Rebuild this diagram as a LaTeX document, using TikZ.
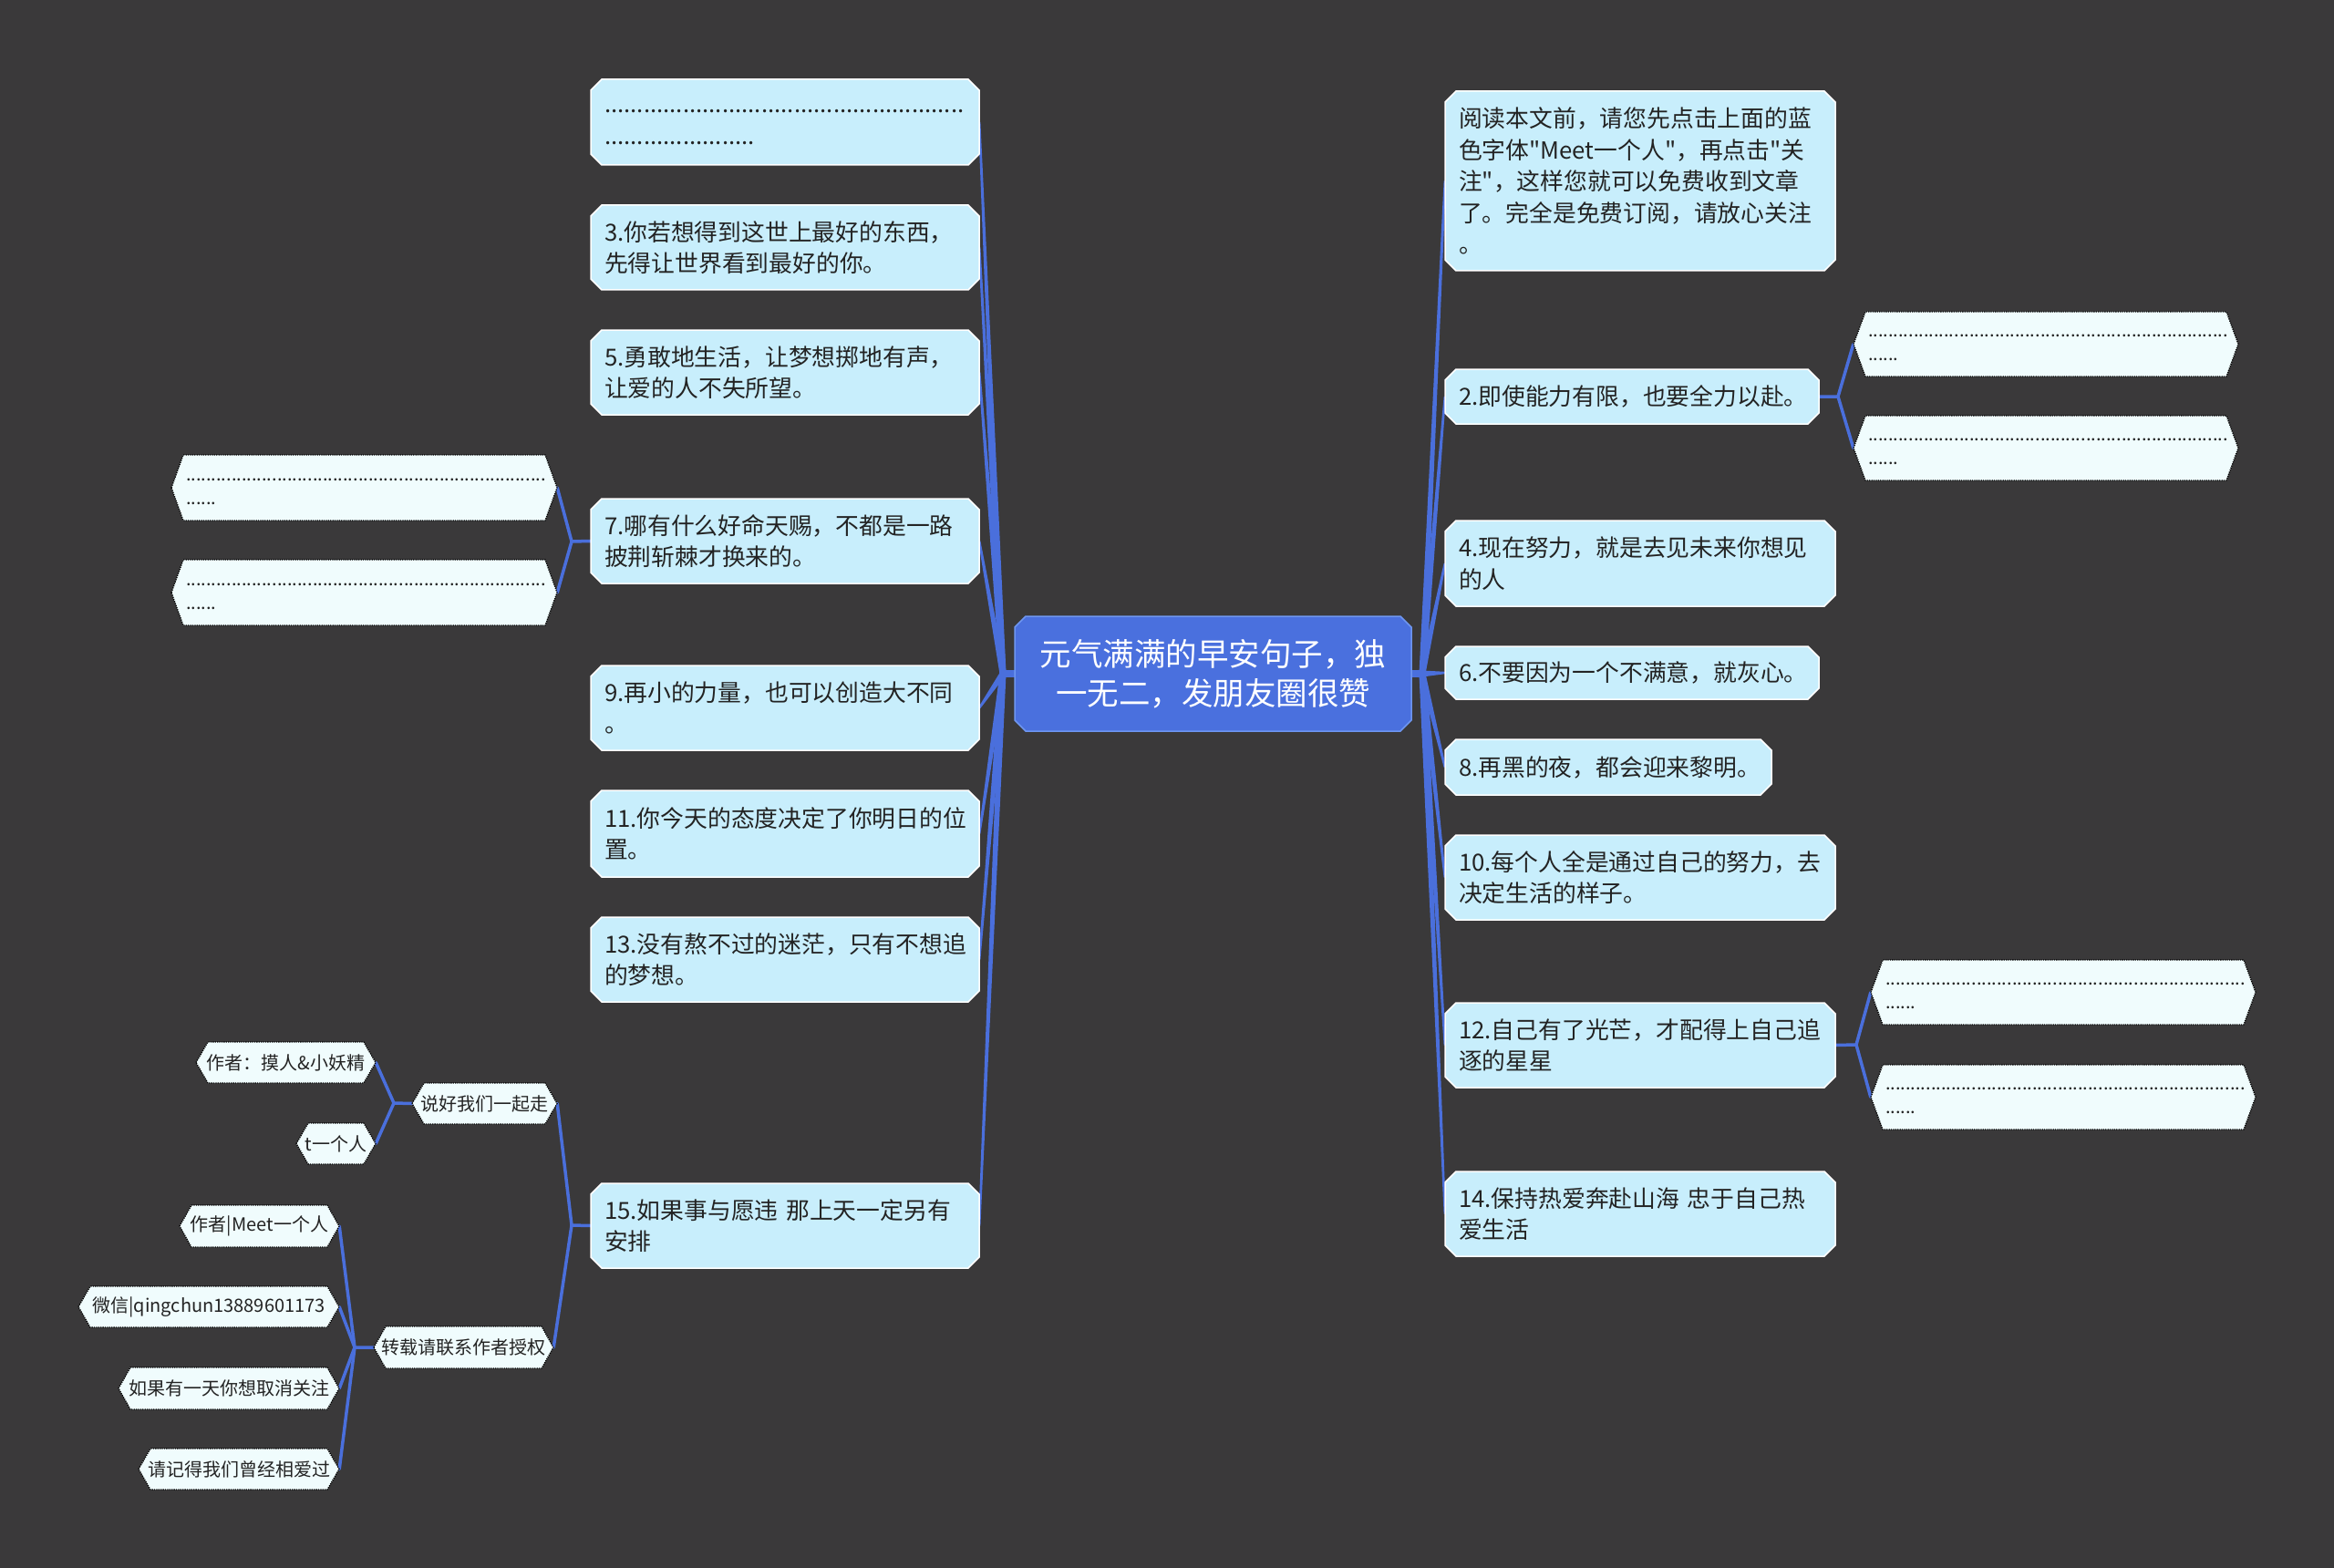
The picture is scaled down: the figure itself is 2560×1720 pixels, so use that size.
\documentclass[tikz,border=0pt]{standalone}
\usepackage{fontspec}
\setmainfont{Noto Sans CJK SC}[Ligatures=TeXOff]
\usetikzlibrary{calc}
\ExplSyntaxOn
\cs_new:Npn \dotrun #1 {\strut\prg_replicate:nn{#1}{.}}
\ExplSyntaxOff
\definecolor{bgc}{RGB}{58,57,58}
\definecolor{conn}{RGB}{74,111,220}
\definecolor{centerc}{RGB}{74,112,222}
\definecolor{centerline}{RGB}{110,150,240}
\definecolor{lightc}{RGB}{200,238,252}
\definecolor{leafc}{RGB}{240,252,253}
\definecolor{textc}{RGB}{35,35,35}
\pgfdeclarelayer{back}\pgfdeclarelayer{lines}\pgfsetlayers{back,lines,main}
\tikzset{
 lightshape/.style={fill=lightc, draw=white, line width=1.5pt},
 centershape/.style={fill=centerc, draw=centerline, line width=1.5pt},
 leafshape/.style={fill=leafc, draw=black, line width=1.3pt, dash pattern=on 1.3pt off 1.1pt},
 maintext/.style={inner xsep=15pt, inner ysep=0pt, align=left, text=textc, font=\fontsize{25.8pt}{34.6pt}\selectfont},
 centertext/.style={inner xsep=15pt, inner ysep=0pt, align=center, text=white, font=\fontsize{34.5pt}{43pt}\selectfont},
 leaftext/.style={inner ysep=0pt, align=left, text=textc, font=\fontsize{20pt}{26pt}\selectfont},
 subtext/.style={inner ysep=0pt, align=center, text=textc, font=\fontsize{20pt}{24pt}\selectfont},
 branch/.style={fill=conn},
 stub/.style={draw=conn, line width=8pt},
 twig/.style={draw=conn, line width=3.5pt, line join=round, line cap=round},
}
% octagon box: shape style, node style, name, x1, y1, x2, y2, text
\newcommand\octo[8]{%
 \pgfmathsetlengthmacro\octW{(#6-#4)*1pt}%
 \pgfmathsetlengthmacro\octH{(#7-#5)*1pt}%
 \pgfmathsetlengthmacro\octT{(#6-#4-30)*1pt}%
 \path[#1] (#4+12,#5) -- (#6-12,#5) -- (#6,#5+12) -- (#6,#7-12) -- (#6-12,#7) -- (#4+12,#7) -- (#4,#7-12) -- (#4,#5+12) -- cycle;
 \node[#2, minimum width=\octW, minimum height=\octH, text width=\octT] (#3) at ({(#4+#6)/2},{(#5+#7)/2}) {#8};
}
% hexagon box: shape style, node style, name, x1, y1, x2, y2, pad, text
\newcommand\hexa[9]{%
 \pgfmathsetlengthmacro\octW{(#6-#4)*1pt}%
 \pgfmathsetlengthmacro\octH{(#7-#5)*1pt}%
 \pgfmathsetlengthmacro\octT{(#6-#4-2*#8)*1pt}%
 \pgfmathsetlengthmacro\octP{#8*1pt}%
 \path[#1] (#4,{(#5+#7)/2}) -- (#4+13,#5) -- (#6-13,#5) -- (#6,{(#5+#7)/2}) -- (#6-13,#7) -- (#4+13,#7) -- cycle;
 \node[#2, inner xsep=\octP, minimum width=\octW, minimum height=\octH, text width=\octT] (#3) at ({(#4+#6)/2},{(#5+#7)/2}) {#9};
}
\newcommand\taper[2]{\fill[branch] ($(#1)!3.5pt!90:(#2)$) -- ($(#2)!1.2pt!-90:(#1)$) -- ($(#2)!1.2pt!90:(#1)$) -- ($(#1)!3.5pt!-90:(#2)$) -- cycle;}
\begin{document}
\begin{tikzpicture}[x=1pt,y=-1pt]
\begin{pgfonlayer}{back}
\fill[bgc] (0,0) rectangle (2560,1720);
\end{pgfonlayer}
% centre
\octo{centershape}{centertext}{C}{1113}{676}{1548}{802}{元气满满的早安句子，独\\一无二，发朋友圈很赞}
% left column
\octo{lightshape}{maintext}{L1}{648}{87}{1074}{181}{\dotrun{55}\\\dotrun{23}}
\octo{lightshape}{maintext}{L3}{648}{225}{1074}{318}{3.你若想得到这世上最好的东西，\\先得让世界看到最好的你。}
\octo{lightshape}{maintext}{L5}{648}{362}{1074}{455}{5.勇敢地生活，让梦想掷地有声，\\让爱的人不失所望。}
\octo{lightshape}{maintext}{L7}{648}{547}{1074}{640}{7.哪有什么好命天赐，不都是一路\\披荆斩棘才换来的。}
\octo{lightshape}{maintext}{L9}{648}{730}{1074}{823}{9.再小的力量，也可以创造大不同\\。}
\octo{lightshape}{maintext}{L11}{648}{867}{1074}{962}{11.你今天的态度决定了你明日的位\\置。}
\octo{lightshape}{maintext}{L13}{648}{1006}{1074}{1099}{13.没有熬不过的迷茫，只有不想追\\的梦想。}
\octo{lightshape}{maintext}{L15}{648}{1298}{1074}{1391}{15.如果事与愿违 那上天一定另有\\安排}
% right column
\octo{lightshape}{maintext}{R0}{1585}{100}{2013}{297}{阅读本文前，请您先点击上面的蓝\\色字体"Meet一个人"，再点击"关\\注"，这样您就可以免费收到文章\\了。完全是免费订阅，请放心关注\\。}
\octo{lightshape}{maintext}{R2}{1585}{405}{1995}{465}{2.即使能力有限，也要全力以赴。}
\octo{lightshape}{maintext}{R4}{1585}{571}{2013}{665}{4.现在努力，就是去见未来你想见\\的人}
\octo{lightshape}{maintext}{R6}{1585}{709}{1995}{767}{6.不要因为一个不满意，就灰心。}
\octo{lightshape}{maintext}{R8}{1585}{811}{1943}{872}{8.再黑的夜，都会迎来黎明。}
\octo{lightshape}{maintext}{R10}{1585}{916}{2013}{1009}{10.每个人全是通过自己的努力，去\\决定生活的样子。}
\octo{lightshape}{maintext}{R12}{1585}{1100}{2013}{1193}{12.自己有了光芒，才配得上自己追\\逐的星星}
\octo{lightshape}{maintext}{R14}{1585}{1285}{2013}{1378}{14.保持热爱奔赴山海 忠于自己热\\爱生活}
% dotted leaves
\hexa{leafshape}{leaftext}{L7a}{188}{499}{611}{571}{16}{\dotrun{71}\\\dotrun{6}}
\hexa{leafshape}{leaftext}{L7b}{188}{614}{611}{686}{16}{\dotrun{71}\\\dotrun{6}}
\hexa{leafshape}{leaftext}{R2a}{2033}{342}{2455}{413}{16}{\dotrun{71}\\\dotrun{6}}
\hexa{leafshape}{leaftext}{R2b}{2033}{456}{2455}{527}{16}{\dotrun{71}\\\dotrun{6}}
\hexa{leafshape}{leaftext}{R12a}{2052}{1053}{2474}{1124}{16}{\dotrun{71}\\\dotrun{6}}
\hexa{leafshape}{leaftext}{R12b}{2052}{1168}{2474}{1239}{16}{\dotrun{71}\\\dotrun{6}}
% sub nodes of 15
\hexa{leafshape}{subtext}{S1}{452}{1188}{611}{1233}{3}{说好我们一起走}
\hexa{leafshape}{subtext}{S1a}{215}{1143}{412}{1188}{3}{作者：摸人\&小妖精}
\hexa{leafshape}{subtext}{S1b}{325}{1232}{412}{1277}{3}{t一个人}
\hexa{leafshape}{subtext}{S2}{410}{1455}{607}{1501}{3}{转载请联系作者授权}
\hexa{leafshape}{subtext}{S2a}{197}{1322}{372}{1368}{3}{作者|Meet一个人}
\hexa{leafshape}{subtext}{S2b}{86}{1411}{372}{1456}{3}{微信|qingchun13889601173}
\hexa{leafshape}{subtext}{S2c}{130}{1500}{372}{1546}{3}{如果有一天你想取消关注}
\hexa{leafshape}{subtext}{S2d}{152}{1589}{372}{1634}{3}{请记得我们曾经相爱过}
% connectors
\begin{pgfonlayer}{lines}
\coordinate (JL) at (1100,739);
\coordinate (JR) at (1560,739);
\draw[stub] (JL) -- (C.west);
\draw[stub] (JR) -- (C.east);
\foreach \n in {L1,L3,L5,L7,L9,L11,L13,L15} {\taper{JL}{\n.east}}
\foreach \n in {R0,R2,R4,R6,R8,R10,R12,R14} {\taper{JR}{\n.west}}
\coordinate (J2) at (2016,435);
\draw[twig] (R2.east) -- (J2) -- (R2a.west);
\draw[twig] (J2) -- (R2b.west);
\coordinate (J12) at (2036,1146);
\draw[twig] (R12.east) -- (J12) -- (R12a.west);
\draw[twig] (J12) -- (R12b.west);
\coordinate (J7) at (627,594);
\draw[twig] (L7.west) -- (J7) -- (L7a.east);
\draw[twig] (J7) -- (L7b.east);
\coordinate (J15) at (627,1344);
\draw[twig] (L15.west) -- (J15) -- (S1.east);
\draw[twig] (J15) -- (S2.east);
\coordinate (JS1) at (432,1210);
\draw[twig] (S1.west) -- (JS1) -- (S1a.east);
\draw[twig] (JS1) -- (S1b.east);
\coordinate (JS2) at (389,1478);
\draw[twig] (S2.west) -- (JS2) -- (S2a.east);
\draw[twig] (JS2) -- (S2b.east);
\draw[twig] (JS2) -- (S2c.east);
\draw[twig] (JS2) -- (S2d.east);
\end{pgfonlayer}
\end{tikzpicture}
\end{document}
